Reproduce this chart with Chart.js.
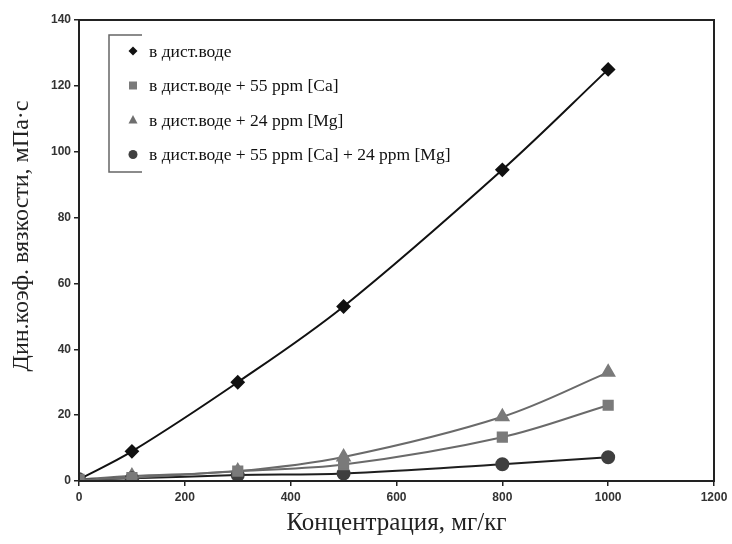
<!DOCTYPE html>
<html>
<head>
<meta charset="utf-8">
<script src="https://cdn.jsdelivr.net/npm/chart.js@4/dist/chart.umd.min.js"></script>
<style>
  html, body { margin: 0; padding: 0; background: #fff; }
  #wrap { width: 732px; height: 544px; }
</style>
</head>
<body>
<div id="wrap"><canvas id="grafico"></canvas></div>
<script>
// datos
const concentraciones = [0, 100, 300, 500, 800, 1000];
const serieAgua = [0.5, 9, 30, 53, 94.5, 125];
const serieCa = [0.5, 1, 3, 5, 13.3, 23];
const serieMg = [0.5, 1.5, 3, 7.3, 19.5, 33];
const serieCaMg = [0.5, 0.8, 1.8, 2.3, 5.1, 7.2];

const nombres = [
    "в дист.воде",
    "в дист.воде + 55 ppm [Ca]",
    "в дист.воде + 24 ppm [Mg]",
    "в дист.воде + 55 ppm [Ca] + 24 ppm [Mg]"
];
const tituloY = "Дин.коэф. вязкости, мПа·с";
const ticksX = [0, 200, 400, 600, 800, 1000, 1200];
const ticksY = [0, 20, 40, 60, 80, 100, 120, 140];

function armarSerie(nombre, valores, color, marcador, radio, colorLinea) {
    return {
        label: nombre,
        data: concentraciones.map((x, i) => ({ x: x, y: valores[i] })),
        borderColor: colorLinea,
        backgroundColor: color,
        pointBackgroundColor: color,
        pointBorderColor: color,
        pointStyle: marcador,
        pointRadius: radio,
        borderWidth: 2,
        tension: 0.35,
        fill: false
    };
}

// el primer dataset queda encima al dibujar
const datasets = [
    armarSerie(nombres[1], serieCa, "#7a7a7a", "rect", 6.5, "#6a6a6a"),
    armarSerie(nombres[3], serieCaMg, "#3f3f3f", "circle", 6, "#1e1e1e"),
    armarSerie(nombres[2], serieMg, "#7a7a7a", "triangle", 7, "#6a6a6a"),
    armarSerie(nombres[0], serieAgua, "#111111", "rectRot", 6, "#111111")
];

// dibuja un marcador pequeño para la leyenda
function marcador(ctx, tipo, x, y, color) {
    ctx.fillStyle = color;
    ctx.beginPath();
    if (tipo === "rectRot") {
        ctx.moveTo(x, y - 4.5); ctx.lineTo(x + 4.5, y); ctx.lineTo(x, y + 4.5); ctx.lineTo(x - 4.5, y);
    } else if (tipo === "rect") {
        ctx.rect(x - 4, y - 4, 8, 8);
    } else if (tipo === "triangle") {
        ctx.moveTo(x, y - 5); ctx.lineTo(x + 4.5, y + 3.5); ctx.lineTo(x - 4.5, y + 3.5);
    } else {
        ctx.arc(x, y, 4.5, 0, Math.PI * 2);
    }
    ctx.closePath();
    ctx.fill();
}

const marcoYLeyenda = {
    id: "marcoYLeyenda",
    beforeDraw(chart) {
        const ctx = chart.ctx;
        ctx.save();
        ctx.fillStyle = "#fff";
        ctx.fillRect(0, 0, chart.width, chart.height);
        ctx.restore();
    },
    afterDraw(chart) {
        const ctx = chart.ctx;
        const a = chart.chartArea;
        ctx.save();
        // marco del area
        ctx.strokeStyle = "#222";
        ctx.lineWidth = 2;
        ctx.strokeRect(a.left, a.top, a.right - a.left, a.bottom - a.top);

        // titulo del eje y (un poco mas arriba que el centro)
        ctx.save();
        ctx.translate(22, 236);
        ctx.rotate(-Math.PI / 2);
        ctx.font = "24px 'Liberation Serif'";
        ctx.fillStyle = "#222";
        ctx.textAlign = "center";
        ctx.textBaseline = "middle";
        ctx.fillText(tituloY, 0, 0);
        ctx.restore();

        // leyenda
        ctx.strokeStyle = "#666";
        ctx.lineWidth = 1.5;
        ctx.beginPath();
        ctx.moveTo(142, 35); ctx.lineTo(109, 35); ctx.lineTo(109, 172); ctx.lineTo(142, 172);
        ctx.stroke();

        const items = [
            { tipo: "rectRot", color: "#111" },
            { tipo: "rect", color: "#7a7a7a" },
            { tipo: "triangle", color: "#6e6e6e" },
            { tipo: "circle", color: "#3f3f3f" }
        ];
        ctx.font = "17.5px 'Liberation Serif'";
        ctx.textBaseline = "middle";
        items.forEach((it, i) => {
            const y = 52 + i * 34.5;
            marcador(ctx, it.tipo, 133, y - 1, it.color);
            ctx.fillStyle = "#111";
            ctx.fillText(nombres[i], 149, y);
        });
        ctx.restore();
    }
};

const ctx = document.getElementById("grafico");
new Chart(ctx, {
    type: "line",
    data: { datasets },
    options: {
        responsive: true,
        maintainAspectRatio: false,
        animation: false,
        layout: { padding: { left: 0, top: 20, right: 18, bottom: 0 } },
        plugins: {
            legend: { display: false },
            tooltip: { enabled: false }
        },
        scales: {
            x: {
                type: "linear",
                min: 0,
                max: 1200,
                afterBuildTicks: (s) => { s.ticks = ticksX.map(v => ({ value: v })); },
                afterFit: (s) => { s.height = 63; },
                border: { color: "#222", width: 2 },
                grid: { drawOnChartArea: false, color: "#222", tickLength: 5, lineWidth: 1.5 },
                ticks: {
                    color: "#333",
                    font: { family: "'Liberation Sans'", size: 12, weight: "bold" },
                    padding: 4,
                    maxRotation: 0,
                    callback: (v) => String(v)
                },
                title: {
                    display: true,
                    text: "Концентрация, мг/кг",
                    color: "#222",
                    font: { family: "'Liberation Serif'", size: 25 },
                    padding: { top: 6, bottom: 6 }
                }
            },
            y: {
                min: 0,
                max: 140,
                afterBuildTicks: (s) => { s.ticks = ticksY.map(v => ({ value: v })); },
                afterFit: (s) => { s.width = 79; },
                border: { color: "#222", width: 2 },
                grid: { drawOnChartArea: false, color: "#222", tickLength: 5, lineWidth: 1.5 },
                ticks: {
                    color: "#333",
                    font: { family: "'Liberation Sans'", size: 12, weight: "bold" },
                    padding: 3,
                    callback: (v) => String(v)
                },
                title: { display: false }
            }
        }
    },
    plugins: [marcoYLeyenda]
});
</script>
</body>
</html>
